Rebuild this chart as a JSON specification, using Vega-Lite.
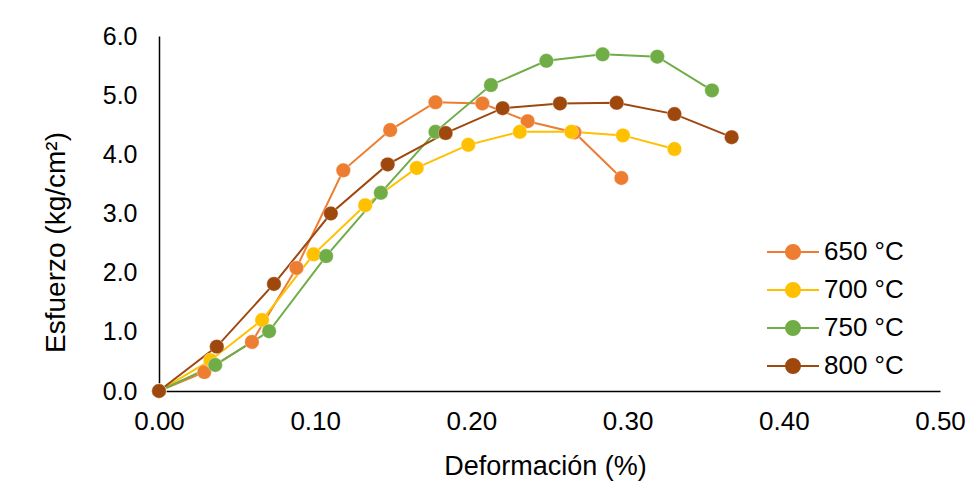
{
  "$schema": "https://vega.github.io/schema/vega-lite/v6.json",
  "width": 781,
  "height": 355,
  "autosize": {"type": "none"},
  "padding": {"left": 159, "top": 36, "right": 33, "bottom": 96},
  "background": "white",
  "config": {
    "view": {"stroke": null},
    "font": "Liberation Sans",
    "axis": {"grid": false, "ticks": false, "domainColor": "#000000", "domainWidth": 1.5, "labelColor": "#000000", "titleColor": "#000000", "labelFont": "Liberation Sans", "titleFont": "Liberation Sans", "titleFontWeight": "normal", "labelFlush": false, "labelOverlap": false}
  },
  "data": {
    "values": [
      {"s": "650 °C", "x": 0, "y": 0},
      {"s": "650 °C", "x": 0.029, "y": 0.32},
      {"s": "650 °C", "x": 0.0595, "y": 0.83},
      {"s": "650 °C", "x": 0.088, "y": 2.08},
      {"s": "650 °C", "x": 0.118, "y": 3.73},
      {"s": "650 °C", "x": 0.148, "y": 4.41},
      {"s": "650 °C", "x": 0.177, "y": 4.88},
      {"s": "650 °C", "x": 0.207, "y": 4.86},
      {"s": "650 °C", "x": 0.236, "y": 4.56},
      {"s": "650 °C", "x": 0.266, "y": 4.37},
      {"s": "650 °C", "x": 0.296, "y": 3.6},
      {"s": "700 °C", "x": 0, "y": 0},
      {"s": "700 °C", "x": 0.033, "y": 0.52},
      {"s": "700 °C", "x": 0.066, "y": 1.2},
      {"s": "700 °C", "x": 0.099, "y": 2.31},
      {"s": "700 °C", "x": 0.132, "y": 3.14},
      {"s": "700 °C", "x": 0.165, "y": 3.77},
      {"s": "700 °C", "x": 0.198, "y": 4.16},
      {"s": "700 °C", "x": 0.231, "y": 4.38},
      {"s": "700 °C", "x": 0.264, "y": 4.38},
      {"s": "700 °C", "x": 0.297, "y": 4.32},
      {"s": "700 °C", "x": 0.33, "y": 4.09},
      {"s": "750 °C", "x": 0, "y": 0},
      {"s": "750 °C", "x": 0.036, "y": 0.44},
      {"s": "750 °C", "x": 0.0705, "y": 1.01},
      {"s": "750 °C", "x": 0.107, "y": 2.28},
      {"s": "750 °C", "x": 0.142, "y": 3.35},
      {"s": "750 °C", "x": 0.177, "y": 4.38},
      {"s": "750 °C", "x": 0.2125, "y": 5.17},
      {"s": "750 °C", "x": 0.248, "y": 5.58},
      {"s": "750 °C", "x": 0.284, "y": 5.69},
      {"s": "750 °C", "x": 0.319, "y": 5.65},
      {"s": "750 °C", "x": 0.354, "y": 5.08},
      {"s": "800 °C", "x": 0, "y": 0},
      {"s": "800 °C", "x": 0.037, "y": 0.75},
      {"s": "800 °C", "x": 0.0736, "y": 1.81},
      {"s": "800 °C", "x": 0.11, "y": 3.0},
      {"s": "800 °C", "x": 0.1464, "y": 3.83},
      {"s": "800 °C", "x": 0.1835, "y": 4.36},
      {"s": "800 °C", "x": 0.22, "y": 4.78},
      {"s": "800 °C", "x": 0.2567, "y": 4.86},
      {"s": "800 °C", "x": 0.293, "y": 4.87},
      {"s": "800 °C", "x": 0.33, "y": 4.68},
      {"s": "800 °C", "x": 0.3666, "y": 4.29}
    ]
  },
  "encoding": {
    "x": {"field": "x", "type": "quantitative", "scale": {"domain": [0, 0.5], "nice": false, "zero": false},
      "axis": {"values": [0, 0.1, 0.2, 0.3, 0.4, 0.5], "format": ".2f", "title": "Deformación (%)", "labelFontSize": 26, "titleFontSize": 27, "labelPadding": 17, "titlePadding": 19, "titleX": 386}},
    "y": {"field": "y", "type": "quantitative", "scale": {"domain": [0, 6], "nice": false},
      "axis": {"values": [0, 1, 2, 3, 4, 5, 6], "format": ".1f", "title": "Esfuerzo (kg/cm²)", "labelFontSize": 25, "titleFontSize": 28, "labelPadding": 22, "titlePadding": 32, "titleY": 206}},
    "color": {"field": "s", "type": "nominal",
      "scale": {"domain": ["650 °C", "700 °C", "750 °C", "800 °C"], "range": ["#ED7D31", "#FFC000", "#70AD47", "#9E480E"]},
      "legend": {"title": null, "orient": "none", "legendX": 621, "legendY": 203, "labelFontSize": 26, "labelColor": "#000000", "labelFont": "Liberation Sans",
        "symbolType": "M-3.71,0L-1,0M1,0L3.71,0M-1,0A1,1 0 1,0 1,0A1,1 0 1,0 -1,0Z",
        "symbolSize": 196, "symbolStrokeWidth": 2, "symbolOpacity": 1, "labelOffset": 18, "rowPadding": 12}
    }
  },
  "layer": [
    {"mark": {"type": "line", "strokeWidth": 2}},
    {"mark": {"type": "point", "filled": true, "shape": "circle", "size": 210, "opacity": 1, "stroke": "white", "strokeWidth": 1, "strokeOpacity": 0.35}}
  ]
}
